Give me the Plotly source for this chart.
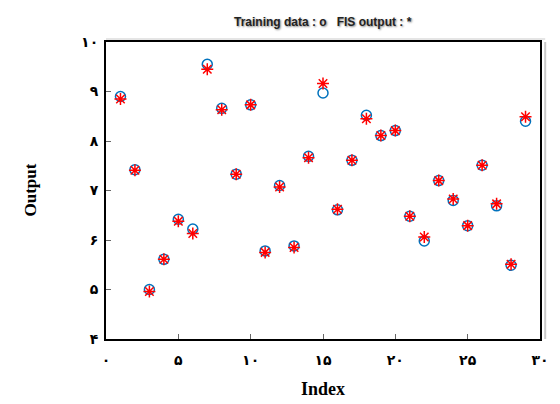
import plotly.graph_objects as go

index = list(range(1, 30))
training = [8.90, 7.42, 5.00, 5.61, 6.42, 6.22, 9.55, 8.66, 7.33, 8.73,
            5.78, 7.10, 5.88, 7.69, 8.97, 6.61, 7.61, 8.52, 8.11, 8.21,
            6.48, 5.98, 7.20, 6.80, 6.29, 7.51, 6.69, 5.49, 8.40]
fis = [8.85, 7.41, 4.96, 5.61, 6.38, 6.13, 9.45, 8.63, 7.33, 8.73,
       5.75, 7.07, 5.85, 7.66, 9.16, 6.62, 7.61, 8.45, 8.11, 8.21,
       6.48, 6.06, 7.20, 6.83, 6.29, 7.51, 6.73, 5.51, 8.49]

x_ticks = [0, 5, 10, 15, 20, 25, 30]
x_labels = ["۰", "۵", "۱۰", "۱۵", "۲۰", "۲۵", "۳۰"]
y_ticks = [4, 5, 6, 7, 8, 9, 10]
y_labels = ["۴", "۵", "۶", "۷", "۸", "۹", "۱۰"]

fig = go.Figure()
fig.add_trace(go.Scatter(
    x=index, y=training, mode="markers", name="Training data",
    marker=dict(symbol="circle-open", size=10, color="rgb(0,114,189)",
                line=dict(width=1.5, color="rgb(0,114,189)")),
))
fig.add_trace(go.Scatter(
    x=index, y=fis, mode="markers", name="FIS output",
    marker=dict(symbol="asterisk-open", size=10, color="red",
                line=dict(width=1.5, color="red")),
))

tickfont = dict(family="DejaVu Sans", size=14, color="black", weight="bold")
fig.update_xaxes(range=[0, 30], tickvals=x_ticks, ticktext=x_labels,
                 showline=True, linecolor="black", linewidth=2, mirror=True,
                 ticks="inside", ticklen=5, tickcolor="#666", showgrid=False,
                 zeroline=False, tickfont=tickfont, ticklabelstandoff=7)
fig.update_yaxes(range=[4, 10], tickvals=y_ticks, ticktext=y_labels,
                 showline=True, linecolor="black", linewidth=2, mirror=True,
                 ticks="inside", ticklen=5, tickcolor="#666", showgrid=False,
                 zeroline=False, tickfont=tickfont, ticklabelstandoff=3)

fig.add_shape(type="line", xref="paper", yref="paper", x0=1.012, x1=1.012,
              y0=0.0, y1=1.0, line=dict(color="#c8c8c8", width=2))
fig.add_shape(type="line", xref="paper", yref="paper", x0=0.0, x1=1.012,
              y0=1.01, y1=1.01, line=dict(color="#dddddd", width=1.5))

fig.add_annotation(text="Training data : o   FIS output : *", xref="paper", yref="paper",
                   x=0.5, y=1.0, yshift=20, xanchor="center", yanchor="middle",
                   showarrow=False,
                   font=dict(family="Liberation Sans Narrow, Liberation Sans", size=12,
                             color="#222", weight="bold", shadow="1px 1px 2px #888"))
fig.add_annotation(text="<b>Index</b>", xref="paper", yref="paper", x=0.5, y=0,
                   yshift=-50, xanchor="center", yanchor="middle", showarrow=False,
                   font=dict(family="Liberation Serif", size=18, color="black"))
fig.add_annotation(text="<b>Output</b>", xref="paper", yref="paper", x=0, y=0.5,
                   xshift=-76, xanchor="center", yanchor="middle", textangle=-90,
                   showarrow=False,
                   font=dict(family="Liberation Serif", size=17, color="black"))

fig.update_layout(width=552, height=396, showlegend=False,
                  margin=dict(l=98, r=20, t=34, b=65),
                  paper_bgcolor="white", plot_bgcolor="white")
fig.write_html("out.html")
